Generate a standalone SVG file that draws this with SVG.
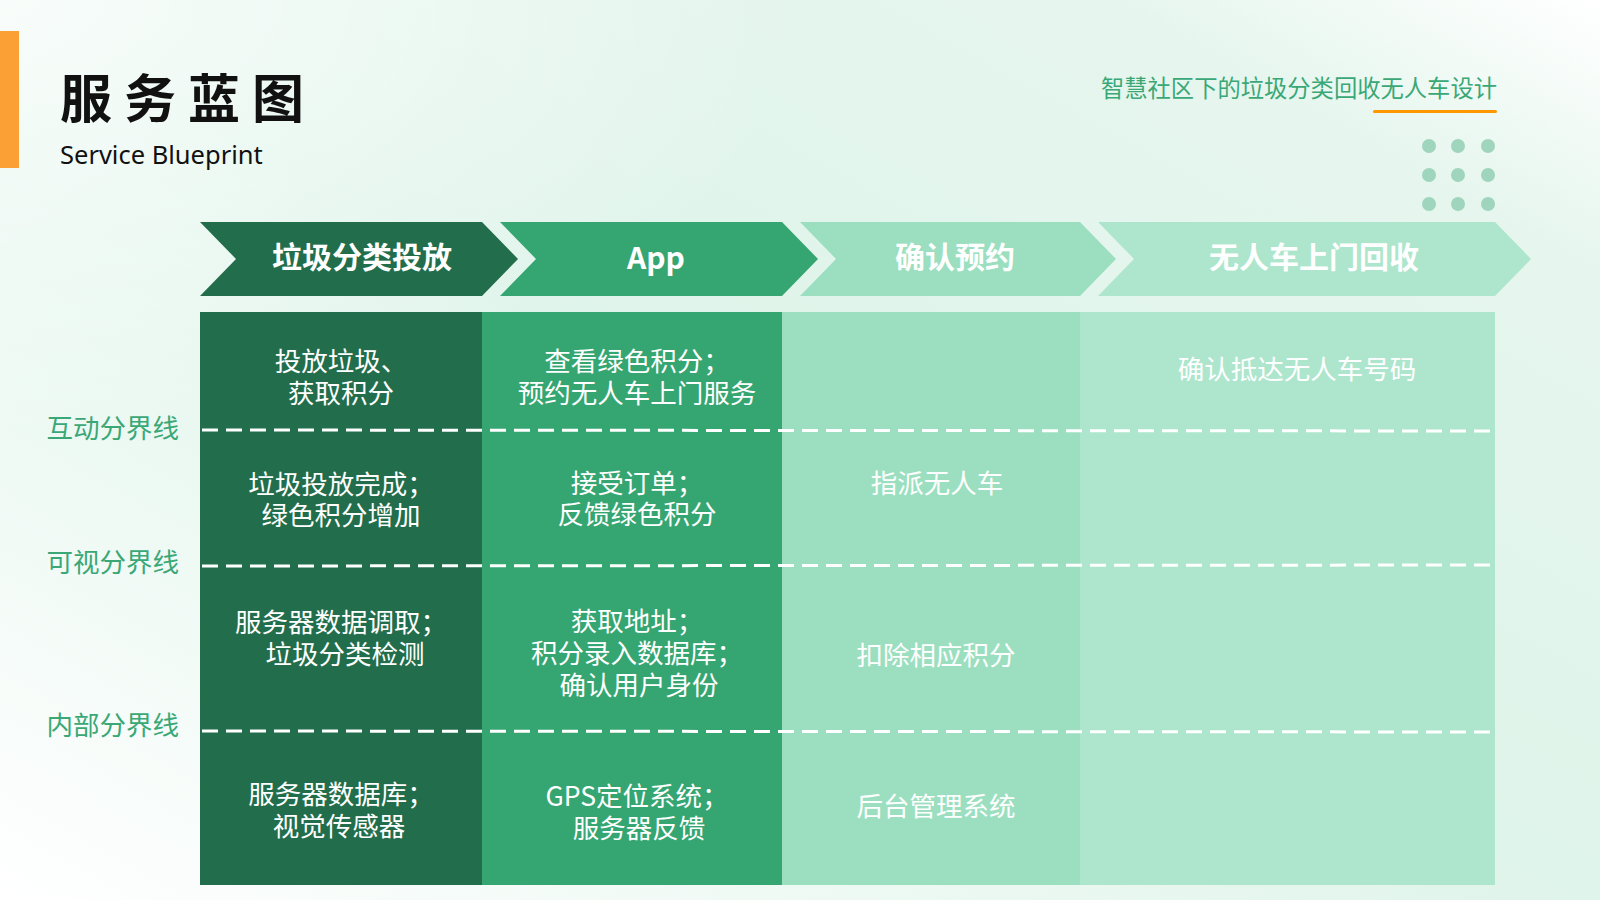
<svg xmlns="http://www.w3.org/2000/svg" width="1600" height="900" viewBox="0 0 1600 900">
<defs>
<linearGradient id="bg" x1="0" y1="1" x2="1" y2="0">
<stop offset="0" stop-color="#ffffff"/>
<stop offset="0.5" stop-color="#dff4ea"/>
<stop offset="0.85" stop-color="#e6f6ee"/>
<stop offset="1" stop-color="#ffffff"/>
</linearGradient>
<radialGradient id="bg2" cx="0" cy="0" r="0.5">
<stop offset="0" stop-color="#ffffff" stop-opacity="0.8"/>
<stop offset="1" stop-color="#ffffff" stop-opacity="0"/>
</radialGradient>
<style>
.cjk{font-family:"Noto Sans CJK SC","Noto Sans",sans-serif;}
.cell{font-family:"Noto Sans CJK SC","Noto Sans",sans-serif;font-size:26.5px;fill:#ffffff;text-anchor:middle;}
.head{font-family:"Noto Sans CJK SC","Noto Sans",sans-serif;font-size:30px;font-weight:bold;fill:#ffffff;text-anchor:middle;}
.lbl{font-family:"Noto Sans CJK SC","Noto Sans",sans-serif;font-size:26.5px;fill:#3aa876;text-anchor:end;}
.dash{stroke:#ffffff;stroke-width:3;stroke-dasharray:16 8;fill:none;}
.dot{fill:#a0d5bd;}
</style>
</defs>
<rect width="1600" height="900" fill="url(#bg)"/>
<rect width="1600" height="900" fill="url(#bg2)"/>

<g id="header">
<rect x="0" y="31" width="19" height="137" fill="#fba034"/>
<text x="60" y="118" class="cjk" font-size="52" font-weight="bold" letter-spacing="12" fill="#111111">服务蓝图</text>
<text x="60" y="164" font-family="'Noto Sans','Open Sans',sans-serif" font-size="25.5" fill="#111111">Service Blueprint</text>
<text x="1497" y="97" class="cjk" font-size="23.3" fill="#3aa876" text-anchor="end">智慧社区下的垃圾分类回收无人车设计</text>
<rect x="1373" y="110" width="124" height="3" rx="1.5" fill="#ff9800"/>
<g id="dots">
<circle class="dot" cx="1429" cy="146" r="7"/><circle class="dot" cx="1458" cy="146" r="7"/><circle class="dot" cx="1488" cy="146" r="7"/>
<circle class="dot" cx="1429" cy="175" r="7"/><circle class="dot" cx="1458" cy="175" r="7"/><circle class="dot" cx="1488" cy="175" r="7"/>
<circle class="dot" cx="1429" cy="204" r="7"/><circle class="dot" cx="1458" cy="204" r="7"/><circle class="dot" cx="1488" cy="204" r="7"/>
</g>
</g>

<g id="stage1">
<polygon points="200,222 482,222 518,259 482,296 200,296 236,259" fill="#226e4c"/>
<text x="362" y="268" class="head">垃圾分类投放</text>
</g>
<g id="stage2">
<polygon points="500,222 782,222 818,259 782,296 500,296 536,259" fill="#35a672"/>
<text x="656" y="269" class="head" font-size="33" font-weight="500">App</text>
</g>
<g id="stage3">
<polygon points="800,222 1080,222 1116,259 1080,296 800,296 836,259" fill="#9bdfc0"/>
<text x="955" y="268" class="head">确认预约</text>
</g>
<g id="stage4">
<polygon points="1098,222 1495,222 1531,259 1495,296 1098,296 1134,259" fill="#ade6cd"/>
<text x="1314" y="268" class="head">无人车上门回收</text>
</g>

<g id="col1">
<rect x="200" y="312" width="282" height="573" fill="#226e4c"/>
<text class="cell" x="341" y="371">投放垃圾、</text>
<text class="cell" x="341" y="403">获取积分</text>
<text class="cell" x="341" y="494">垃圾投放完成；</text>
<text class="cell" x="341" y="525">绿色积分增加</text>
<text class="cell" x="341" y="632">服务器数据调取；</text>
<text class="cell" x="345" y="664">垃圾分类检测</text>
<text class="cell" x="341" y="804">服务器数据库；</text>
<text class="cell" x="339" y="836">视觉传感器</text>
</g>
<g id="col2">
<rect x="482" y="312" width="300" height="573" fill="#35a672"/>
<text class="cell" x="637" y="371">查看绿色积分；</text>
<text class="cell" x="637" y="403">预约无人车上门服务</text>
<text class="cell" x="637" y="493">接受订单；</text>
<text class="cell" x="637" y="524">反馈绿色积分</text>
<text class="cell" x="637" y="631">获取地址；</text>
<text class="cell" x="637" y="663">积分录入数据库；</text>
<text class="cell" x="639" y="695">确认用户身份</text>
<text class="cell" x="637" y="806">GPS定位系统；</text>
<text class="cell" x="639" y="838">服务器反馈</text>
</g>
<g id="col3">
<rect x="782" y="312" width="298" height="573" fill="#9bdfc0"/>
<text class="cell" x="937" y="493">指派无人车</text>
<text class="cell" x="936" y="665">扣除相应积分</text>
<text class="cell" x="936" y="816">后台管理系统</text>
</g>
<g id="col4">
<rect x="1080" y="312" width="415" height="573" fill="#ade6cd"/>
<text class="cell" x="1297" y="379">确认抵达无人车号码</text>
</g>

<g id="connectors">
<line class="dash" x1="202" y1="430" x2="1495" y2="431"/>
<line class="dash" x1="202" y1="566" x2="1495" y2="565"/>
<line class="dash" x1="202" y1="731" x2="1495" y2="732"/>
</g>

<g id="labels">
<text class="lbl" x="179" y="438">互动分界线</text>
<text class="lbl" x="179" y="572">可视分界线</text>
<text class="lbl" x="179" y="735">内部分界线</text>
</g>
</svg>
